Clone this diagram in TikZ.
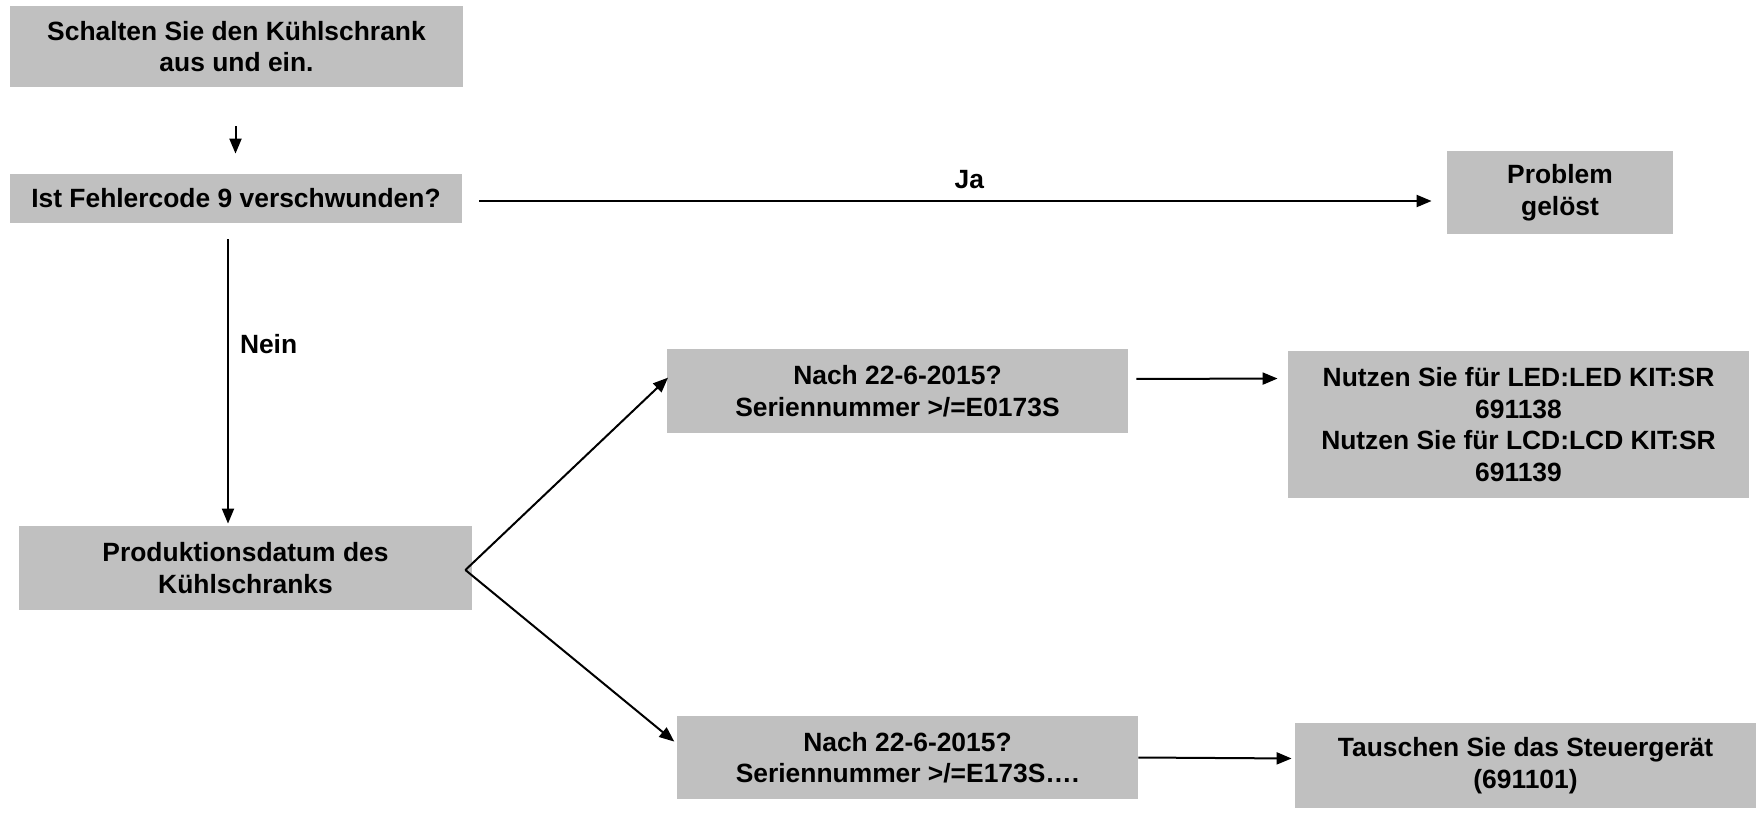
\documentclass[tikz,border=0pt]{standalone}
\usepackage{fontspec}
\setmainfont{Liberation Sans}
\usepackage{tikz}
\usetikzlibrary{arrows.meta}
\usepackage{xcolor}
\definecolor{boxgray}{RGB}{192,192,192}

\begin{document}
\begin{tikzpicture}[
  x=0.5pt, y=-0.5pt,
  flowbox/.style={rectangle, draw=none, fill=boxgray, align=center, inner sep=0pt, minimum width=230.5pt, minimum height=42pt, font=\bfseries\fontsize{13.2}{15.8}\selectfont},
  lbl/.style={inner sep=0pt, font=\bfseries\fontsize{13.2}{15.8}\selectfont},
  arr/.style={-{Triangle[length=7.5pt, width=6pt]}, line width=1pt, color=black}
]
\useasboundingbox (0,0) rectangle (1758,814);
\node[flowbox, minimum width=226.5pt, minimum height=40.5pt] (b1) at (236.5,46.5) {Schalten Sie den Kühlschrank\\aus und ein.};
\node[flowbox, minimum width=226pt, minimum height=24.5pt] (b2) at (236,198.5) {Ist Fehlercode 9 verschwunden?};
\node[flowbox, minimum width=113pt, minimum height=41.5pt] (solved) at (1560,192.5) {Problem\\gelöst};
\node[flowbox, minimum width=226.5pt] (prod) at (245.5,568) {Produktionsdatum des\\Kühlschranks};
\node[flowbox] (after1) at (897.5,391) {Nach 22-6-2015?\\Seriennummer >/=E0173S};
\node[flowbox, minimum height=73.5pt] (ledkit) at (1518.5,424.5) {Nutzen Sie für LED:LED KIT:SR\\691138\\Nutzen Sie für LCD:LCD KIT:SR\\691139};
\node[flowbox, minimum height=41.5pt] (after2) at (907.5,757.5) {Nach 22-6-2015?\\Seriennummer >/=E173S….};
\node[flowbox, minimum height=42.5pt] (ctrl) at (1525.5,765.5) {Tauschen Sie das Steuergerät\\(691101)};
\draw[arr, shorten <=19.5pt, shorten >=10pt] ([xshift=-0.5pt]b1.south) -- ([xshift=-0.5pt]b1.south |- b2.north);
\draw[arr, shorten <=8.5pt, shorten >=7.5pt] ([yshift=-1.25pt]b2.east) -- ([yshift=-1.25pt]b2.east -| solved.west)
  node[lbl, pos=0.515, above=5.5pt] (ja) {Ja};
\draw[arr, shorten <=8pt, shorten >=1pt] ([xshift=-4pt]b2.south) -- ([xshift=-4pt]b2.south |- prod.north)
  node[lbl, pos=0.4, right=5.5pt] (nein) {Nein};
\draw[arr, shorten >=-1pt] ([xshift=-3.5pt, yshift=-1pt]prod.east) -- ([yshift=6pt]after1.west);
\draw[arr, shorten >=1.5pt] ([xshift=-3.5pt, yshift=-1pt]prod.east) -- ([yshift=7pt]after2.west);
\draw[arr, shorten <=4pt, shorten >=5pt] ([yshift=6pt]after1.east) -- ([yshift=23pt]ledkit.west);
\draw[arr, shorten >=1.5pt] (after2.east) -- ([yshift=3.5pt]ctrl.west);
\end{tikzpicture}
\end{document}
